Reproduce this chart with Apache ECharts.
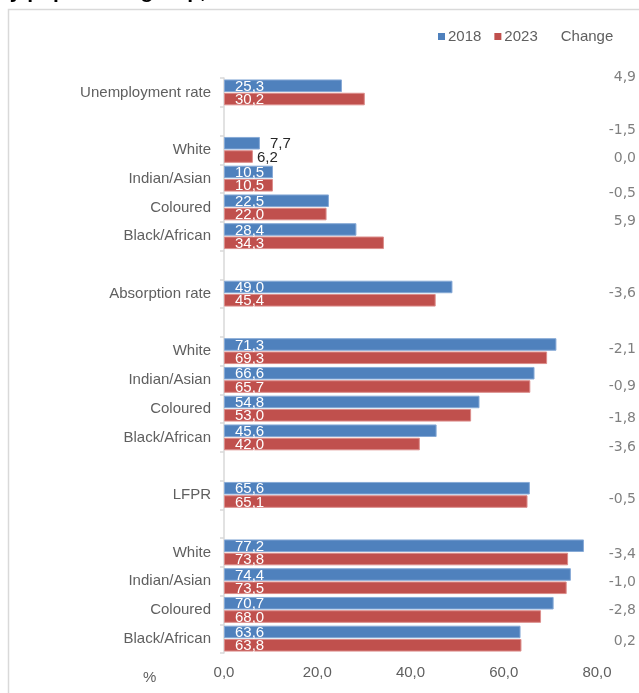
<!DOCTYPE html>
<html>
<head>
<meta charset="utf-8">
<script src="https://cdn.jsdelivr.net/npm/echarts@6/dist/echarts.min.js"></script>
<style>html,body{margin:0;padding:0;background:#fff;}#c{width:639px;height:693px;}</style>
</head>
<body>
<div id="c"></div>
<script>
// ---- data ----
var categories = ['Unemployment rate','','White','Indian/Asian','Coloured','Black/African','',
  'Absorption rate','','White','Indian/Asian','Coloured','Black/African','',
  'LFPR','','White','Indian/Asian','Coloured','Black/African'];
var values2018 = [25.3,null,7.7,10.5,22.5,28.4,null,49.0,null,71.3,66.6,54.8,45.6,null,65.6,null,77.2,74.4,70.7,63.6];
var values2023 = [30.2,null,6.2,10.5,22.0,34.3,null,45.4,null,69.3,65.7,53.0,42.0,null,65.1,null,73.8,73.5,68.0,63.8];
var changeValues = [4.9,-1.5,0.0,-0.5,5.9,-3.6,-2.1,-0.9,-1.8,-3.6,-0.5,-3.4,-1.0,-2.8,0.2];
var changeRows = [0,2,3,4,5,7,9,10,11,12,14,16,17,18,19];
var xTicks = [0,20,40,60,80];

// ---- layout (row shifts of the separate "Change" text column) ----
var changeRowShift = [-0.52,-0.68,-0.70,-0.49,-0.51,-0.01,-0.06,0.23,0.34,0.35,0.16,0.07,0.04,0.02,0.10];

function fmt(v){ return Number(v).toFixed(1).replace('.', ',').replace(/^-0,0$/, '0,0'); }

var BLUE = '#4f81bd', RED = '#c0504d';
var GRID_TOP = 78, GRID_BOTTOM = 40;

function barData(arr, dist){
  return arr.map(function(v){
    if (v == null) return '-';
    if (v < 10) return {value: v, label: {position: 'right', distance: dist, color: '#262626', fontSize: 15}};
    return v;
  });
}

var chart = echarts.init(document.getElementById('c'), null, {renderer: 'canvas'});
var txt = '#5f5f5f';
chart.setOption({
  animation: false,
  backgroundColor: '#ffffff',
  textStyle: {fontFamily: 'Liberation Sans, Arial, sans-serif'},
  graphic: [
    {type: 'rect', shape: {x: 8.5, y: 9.5, width: 700, height: 700}, style: {fill: 'none', stroke: '#d9d9d9', lineWidth: 1.5}, silent: true, z: -1},
    {type: 'text', left: -3, top: -18, style: {text: 'by population group,', fontSize: 21, fontWeight: 'bold', fill: '#000', fontFamily: 'Liberation Sans, Arial, sans-serif'}},
    {type: 'text', left: 143, top: 670, style: {text: '%', fontSize: 15, fill: txt, fontFamily: 'Liberation Sans, Arial, sans-serif'}}
  ],
  legend: {
    left: 433, top: 24, itemWidth: 7, itemHeight: 7, itemGap: 13,
    itemStyle: {borderWidth: 0},
    textStyle: {fontSize: 15, color: txt, padding: [0, 0, 0, -2]},
    data: [
      {name: '2018', icon: 'rect'},
      {name: '2023', icon: 'rect'},
      {name: 'Change', icon: 'rect', itemStyle: {opacity: 0}}
    ]
  },
  grid: [
    {left: 224, right: 42, top: GRID_TOP, bottom: GRID_BOTTOM, containLabel: false},
    {left: 560, right: 0, top: GRID_TOP, bottom: GRID_BOTTOM, containLabel: false}
  ],
  xAxis: [
    {type: 'value', gridIndex: 0, min: xTicks[0], max: xTicks[xTicks.length-1], interval: 20,
     axisLine: {show: false}, axisTick: {show: false}, splitLine: {show: false},
     axisLabel: {formatter: fmt, color: txt, fontSize: 15, margin: 12}},
    {type: 'value', gridIndex: 1, min: 0, max: 1, show: false}
  ],
  yAxis: [
    {type: 'category', gridIndex: 0, data: categories, inverse: true,
     axisLine: {show: true, lineStyle: {color: '#d9d9d9', width: 1.5}},
     axisTick: {show: true, length: 4, lineStyle: {color: '#d9d9d9', width: 1.5}, interval: 0},
     axisLabel: {color: txt, fontSize: 15, margin: 13, interval: 0}},
    {type: 'value', gridIndex: 1, min: -0.5, max: categories.length - 0.5, inverse: true, show: false}
  ],
  series: [
    {name: '2018', type: 'bar', xAxisIndex: 0, yAxisIndex: 0, data: barData(values2018, 10),
     barGap: '6%', barCategoryGap: '10%',
     itemStyle: {color: BLUE, borderColor: '#86a9d6', borderWidth: 1},
     label: {show: true, position: 'insideLeft', distance: 11, color: '#fff', fontSize: 15, formatter: function(p){return fmt(p.value);}, offset: [0, 1]}},
    {name: '2023', type: 'bar', xAxisIndex: 0, yAxisIndex: 0, data: barData(values2023, 4),
     barGap: '6%', barCategoryGap: '10%',
     itemStyle: {color: RED, borderColor: '#dc8d8b', borderWidth: 1},
     label: {show: true, position: 'insideLeft', distance: 11, color: '#fff', fontSize: 15, formatter: function(p){return fmt(p.value);}, offset: [0, 1]}},
    {name: 'Change', type: 'scatter', xAxisIndex: 1, yAxisIndex: 1, symbolSize: 0, clip: false,
     itemStyle: {color: 'rgba(0,0,0,0)'},
     data: changeValues.map(function(v, i){ return {value: [1, changeRows[i] + changeRowShift[i]]}; }),
     label: {show: true, position: 'left', distance: 3, color: txt, fontSize: 14, fontFamily: 'DejaVu Sans, Verdana, sans-serif',
       formatter: function(p){ return fmt(changeValues[p.dataIndex]); }}}
  ]
});
</script>
</body>
</html>
